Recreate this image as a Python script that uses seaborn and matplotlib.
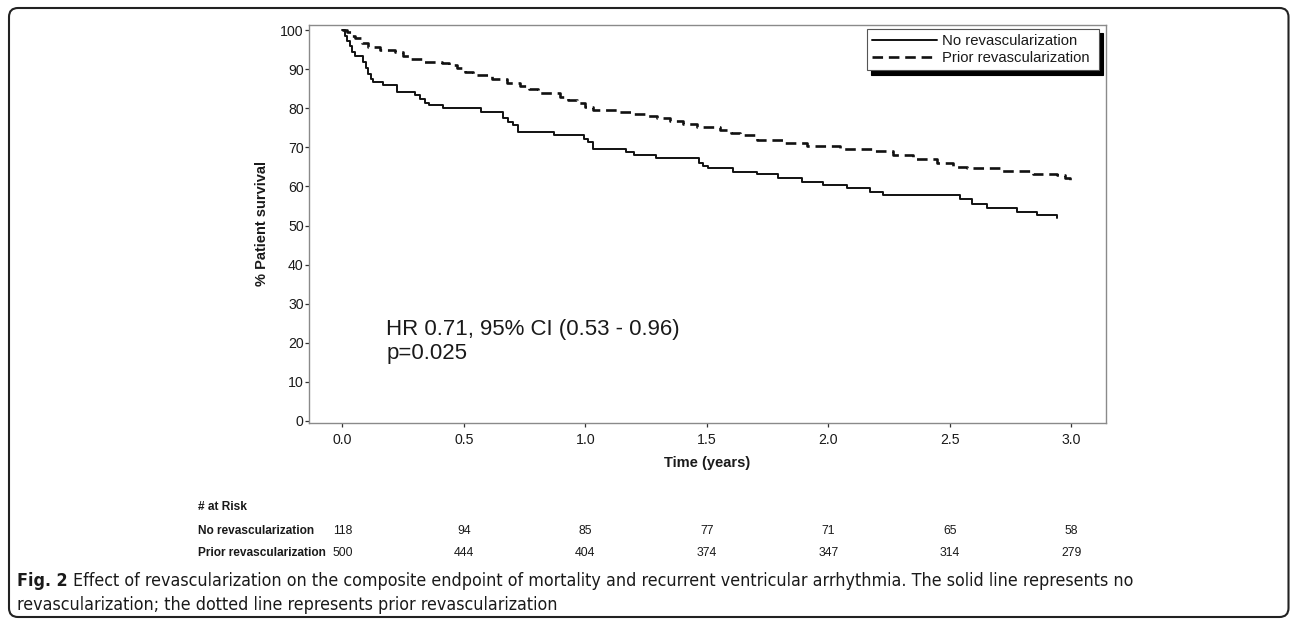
import matplotlib
matplotlib.use("Agg")
import matplotlib.pyplot as plt
import matplotlib.transforms as mtransforms
from matplotlib.patches import FancyBboxPatch
from matplotlib import font_manager
from matplotlib.font_manager import FontProperties
import os
import pandas as pd
import seaborn as sns

# ---------------- data ----------------
groups = ["No revascularization", "Prior revascularization"]

t_none = [0, 0.01, 0.02, 0.03, 0.04, 0.052, 0.087, 0.097, 0.107, 0.117, 0.125,
          0.166, 0.224, 0.299, 0.32, 0.34, 0.357, 0.416, 0.571, 0.663, 0.682,
          0.703, 0.722, 0.871, 0.995, 1.012, 1.033, 1.168, 1.2, 1.291, 1.468,
          1.485, 1.505, 1.609, 1.705, 1.794, 1.89, 1.98, 2.076, 2.172, 2.226,
          2.542, 2.59, 2.652, 2.775, 2.858, 2.94]
s_none = [100, 98.6, 97.2, 95.8, 94.5, 93.3, 91.8, 90.2, 88.7, 87.6, 86.8,
          85.9, 84.2, 83.3, 82.3, 81.4, 80.8, 80.0, 79.1, 77.5, 76.5,
          75.7, 74.0, 73.1, 72.2, 71.4, 69.7, 68.9, 68.0, 67.2, 65.9,
          65.2, 64.6, 63.8, 63.2, 62.1, 61.2, 60.4, 59.5, 58.6, 57.8,
          56.7, 55.5, 54.4, 53.5, 52.7, 51.8]

t_prior = [0, 0.018, 0.035, 0.052, 0.08, 0.107, 0.155, 0.217, 0.25, 0.279,
           0.333, 0.409, 0.44, 0.471, 0.505, 0.539, 0.615, 0.676, 0.731, 0.77,
           0.807, 0.896, 0.93, 0.965, 1.0, 1.033, 1.129, 1.198, 1.25, 1.294,
           1.35, 1.403, 1.458, 1.554, 1.6, 1.637, 1.705, 1.815, 1.911, 2.048,
           2.185, 2.267, 2.35, 2.446, 2.514, 2.57, 2.706, 2.843, 2.94, 2.974,
           2.995]
s_prior = [100, 99.4, 98.6, 97.9, 96.8, 95.7, 94.9, 94.3, 93.4, 92.5,
           91.9, 91.7, 91.0, 90.2, 89.3, 88.5, 87.5, 86.4, 85.7, 84.8,
           84.0, 82.9, 82.1, 81.3, 80.4, 79.5, 79.1, 78.5, 78.0, 77.5,
           76.8, 76.1, 75.3, 74.4, 73.7, 73.1, 72.0, 71.0, 70.3, 69.7,
           69.1, 68.0, 66.9, 66.1, 65.0, 64.6, 64.0, 63.2, 62.9, 62.1,
           61.2]

x_ticks = [0.0, 0.5, 1.0, 1.5, 2.0, 2.5, 3.0]
x_tick_labels = ["0.0", "0.5", "1.0", "1.5", "2.0", "2.5", "3.0"]
y_ticks = [0, 10, 20, 30, 40, 50, 60, 70, 80, 90, 100]

risk_times = [0.0, 0.5, 1.0, 1.5, 2.0, 2.5, 3.0]
risk_none = [118, 94, 85, 77, 71, 65, 58]
risk_prior = [500, 444, 404, 374, 347, 314, 279]
risk_title = "# at Risk"

annot_text = "HR 0.71, 95% CI (0.53 - 0.96)\np=0.025"
x_label = "Time (years)"
y_label = "% Patient survival"

caption_bold = "Fig. 2"
caption_line1 = ("Effect of revascularization on the composite endpoint of mortality "
                 "and recurrent ventricular arrhythmia. The solid line represents no")
caption_line2 = "revascularization; the dotted line represents prior revascularization"

# ---------------- style ----------------
sns.set_theme(style="white")
plt.rcParams["font.family"] = ["Liberation Sans", "DejaVu Sans"]

W, H = 1290, 620
fig = plt.figure(figsize=(W / 100, H / 100), dpi=100)
fig.patch.set_facecolor("white")

ax_l, ax_r, ax_t, ax_b = 309.3, 1105.7, 25.0, 422.7
ax = fig.add_axes([ax_l / W, 1 - ax_b / H, (ax_r - ax_l) / W, (ax_b - ax_t) / H])

df_none = pd.DataFrame({"Time": t_none, "Survival": s_none})
df_prior = pd.DataFrame({"Time": t_prior, "Survival": s_prior})

sns.lineplot(data=df_none, x="Time", y="Survival", ax=ax, estimator=None,
             color="#111111", linewidth=1.4, drawstyle="steps-post")
sns.lineplot(data=df_prior, x="Time", y="Survival", ax=ax, estimator=None,
             color="#111111", linewidth=1.9, linestyle=(0, (4.0, 2.2)),
             drawstyle="steps-post")

ax.set_xlim(-0.136, 3.1415)
ax.set_ylim(-0.44, 101.3)
ax.set_xticks(x_ticks)
ax.set_xticklabels(x_tick_labels)
ax.set_yticks(y_ticks)

for sp in ax.spines.values():
    sp.set_visible(True)
    sp.set_color("#8a8a8a")
    sp.set_linewidth(1.0)

ax.tick_params(axis="both", which="major", bottom=True, left=True,
               direction="out", length=2.6, width=0.9, color="#333333",
               labelsize=10.2, labelcolor="#1a1a1a")
ax.tick_params(axis="x", pad=4.5)
ax.tick_params(axis="y", pad=1.5)

ax.set_xlabel(x_label, fontsize=10.5, fontweight="bold", color="#1a1a1a")
ax.xaxis.label.set_verticalalignment("center")
ax.xaxis.set_label_coords((706.7 - ax_l) / (ax_r - ax_l), -(463 - ax_b) / (ax_b - ax_t))
ax.set_ylabel(y_label, fontsize=10.5, fontweight="bold", color="#1a1a1a")
ax.yaxis.label.set_verticalalignment("center")
ax.yaxis.set_label_coords((262 - ax_l) / (ax_r - ax_l), 0.5)

ax.text(0.18, 20.35, annot_text, fontsize=16, color="#1a1a1a",
        ha="left", va="center", linespacing=1.22)

lines = ax.get_lines()[:2]
leg_l, leg_t, leg_r, leg_bt = 866.7, 29.0, 1099.0, 70.0
leg = ax.legend(handles=lines, labels=groups, loc="upper left", mode="expand",
                bbox_to_anchor=(leg_l / W, 1 - leg_bt / H, (leg_r - leg_l) / W, (leg_bt - leg_t) / H),
                bbox_transform=fig.transFigure,
                frameon=True, fancybox=False,
                shadow={"ox": 3, "oy": -3, "color": "black", "alpha": 1.0},
                fontsize=10.7, handlelength=4.4, handletextpad=0.3,
                borderpad=0.35, labelspacing=0.2, borderaxespad=0)
leg.get_frame().set_edgecolor("#555555")
leg.get_frame().set_linewidth(0.8)
for txt in leg.get_texts():
    txt.set_color("#1a1a1a")

# ---------------- risk table ----------------
trans = mtransforms.blended_transform_factory(ax.transData, fig.transFigure)
lab_x = 197.6 / W
fig.text(lab_x, 1 - 507.5 / H, risk_title, fontsize=8.6, fontweight="bold",
         color="#1a1a1a", ha="left", va="center")
rows = [(groups[0], risk_none, 530.5), (groups[1], risk_prior, 552.5)]
for name, vals, ypx in rows:
    fig.text(lab_x, 1 - ypx / H, name, fontsize=8.6, fontweight="bold",
             color="#1a1a1a", ha="left", va="center")
    for tt, vv in zip(risk_times, vals):
        ax.text(tt, 1 - ypx / H, str(vv), transform=trans, fontsize=8.8,
                color="#1a1a1a", ha="center", va="center", clip_on=False)

# ---------------- caption font (prefer a condensed sans) ----------------
def _is_condensed(f):
    st = str(f.stretch).lower()
    base = os.path.basename(f.fname).lower()
    return ("condensed" in st) or ("narrow" in f.name.lower()) or \
           ("condensed" in base) or ("narrow" in base)

def _weight(f):
    w = f.weight
    if isinstance(w, str):
        return {"normal": 400, "regular": 400, "book": 400, "bold": 700}.get(w.lower(), 400)
    return int(w)

reg_fp, bold_fp = None, None
prefs = ["Liberation Sans Narrow", "Open Sans", "Noto Sans", "Roboto", "DejaVu Sans"]
for fam in prefs:
    cands = [f for f in font_manager.fontManager.ttflist
             if f.name == fam and f.style == "normal" and _is_condensed(f)
             and "semi" not in os.path.basename(f.fname).lower()
             and "extra" not in os.path.basename(f.fname).lower()
             and "ultra" not in os.path.basename(f.fname).lower()]
    if fam == "Liberation Sans Narrow":
        cands = [f for f in font_manager.fontManager.ttflist
                 if f.name == fam and f.style == "normal"]
    regs = [f for f in cands if _weight(f) == 400]
    bolds = [f for f in cands if _weight(f) == 700]
    if regs:
        reg_fp = FontProperties(fname=regs[0].fname)
        bold_fp = FontProperties(fname=bolds[0].fname) if bolds else FontProperties(fname=regs[0].fname, weight="bold")
        break
if reg_fp is None:
    reg_fp = FontProperties(family="Liberation Sans")
    bold_fp = FontProperties(family="Liberation Sans", weight="bold")

renderer = fig.canvas.get_renderer()


def _w(s, fp):
    t = fig.text(0, 0, s, fontproperties=fp)
    wd = t.get_window_extent(renderer).width
    t.remove()
    return wd


cap_x0 = 17.0
target_w = 1127.0 - cap_x0
cap_size = 12.0
reg_fp.set_size(cap_size)
bold_fp.set_size(cap_size)
total = _w(caption_bold, bold_fp) + (_w("a a", reg_fp) - _w("aa", reg_fp)) + _w(caption_line1, reg_fp)
cap_size *= target_w / total
reg_fp.set_size(cap_size)
bold_fp.set_size(cap_size)

y1 = 1 - 581 / H
y2 = 1 - 605 / H
bw = _w(caption_bold, bold_fp)
sp_w = _w("a a", reg_fp) - _w("aa", reg_fp)
fig.text(cap_x0 / W, y1, caption_bold, fontproperties=bold_fp,
         color="#1a1a1a", ha="left", va="center")
fig.text((cap_x0 + bw + sp_w) / W, y1, caption_line1, fontproperties=reg_fp,
         color="#1a1a1a", ha="left", va="center")
fig.text(cap_x0 / W, y2, caption_line2, fontproperties=reg_fp,
         color="#1a1a1a", ha="left", va="center")

# ---------------- frame ----------------
border = FancyBboxPatch((9, H - 617), 1288.5 - 9, 617 - 8,
                        boxstyle="round,pad=0,rounding_size=9",
                        transform=mtransforms.IdentityTransform(),
                        fill=False, linewidth=1.5, edgecolor="#222222")
fig.add_artist(border)

fig.savefig("out.png", dpi=100, facecolor="white")
